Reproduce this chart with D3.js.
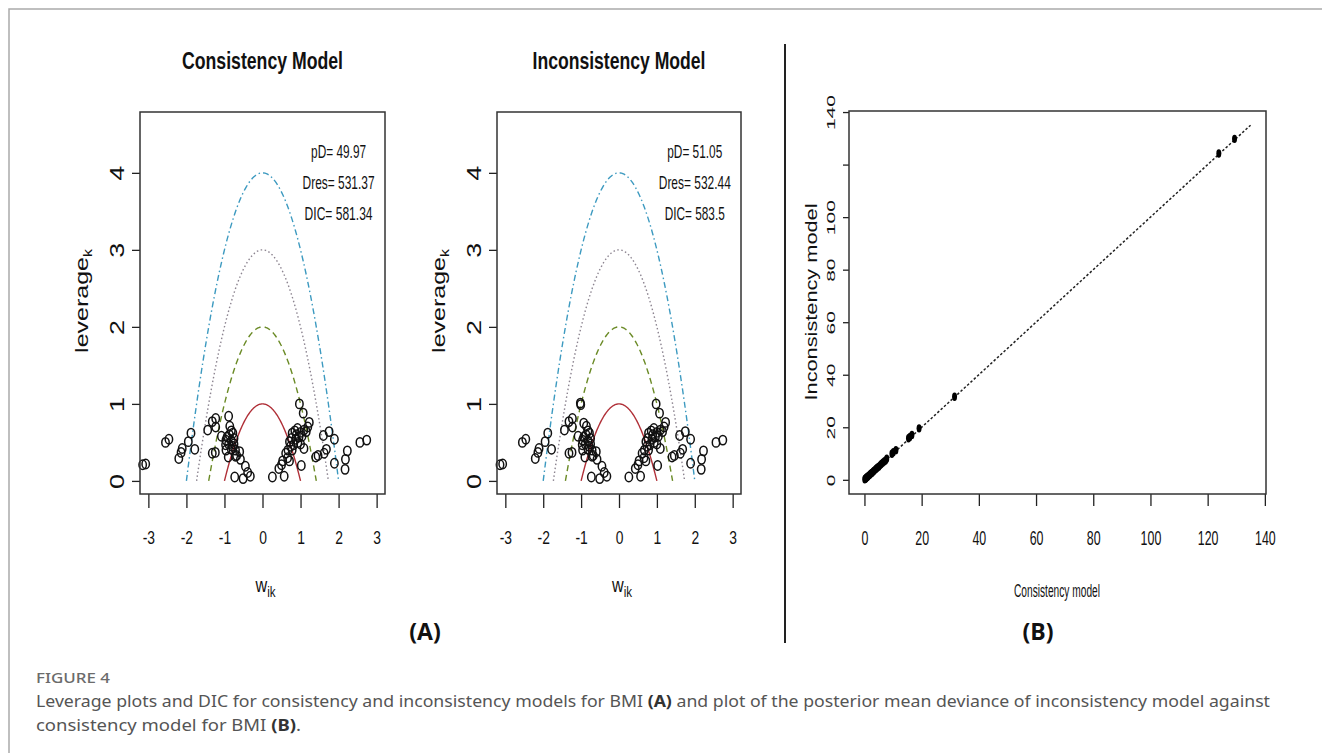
<!DOCTYPE html>
<html>
<head>
<meta charset="utf-8">
<script src="https://cdn.jsdelivr.net/npm/d3@7"></script>
<style>
  body { margin: 0; background: #fff; }
  svg { display: block; }
</style>
</head>
<body>
<svg id="fig" width="1322" height="753"></svg>
<script>
// leverage plot, consistency model: w_ik and leverage_ik
const wConsistency = [-3.15,-3.07,-2.55,-2.46,-2.20,-2.14,-2.11,-1.95,-1.88,-1.78,
  -1.44,-1.32,-1.23,-1.23,-1.32,-1.24,-1.08,-0.89,-0.86,-0.82,
  -0.78,-0.87,-0.75,-0.96,-0.82,-0.97,-0.89,-0.75,-0.96,-0.82,
  -0.71,-0.60,-0.90,-0.71,-0.58,-0.45,-0.39,-0.32,-0.51,-0.73,
  0.26,0.57,0.43,0.50,0.53,0.71,0.61,0.67,0.97,1.07,
  0.78,0.85,0.92,1.00,1.09,1.15,1.19,1.23,0.76,0.87,
  0.96,1.04,0.71,0.82,1.00,1.09,0.78,1.02,1.40,1.46,
  1.62,1.68,1.60,1.75,1.89,1.89,2.17,2.18,2.23,2.56,
  2.74,-0.93,-0.79,-0.68,0.89,0.93,0.74,0.66];
const levConsistency = [0.21,0.22,0.50,0.54,0.29,0.37,0.42,0.51,0.62,0.41,
  0.66,0.77,0.81,0.70,0.36,0.37,0.58,0.84,0.71,0.65,
  0.62,0.60,0.55,0.53,0.52,0.47,0.48,0.48,0.40,0.41,
  0.40,0.38,0.31,0.32,0.28,0.19,0.11,0.06,0.03,0.05,
  0.05,0.06,0.16,0.21,0.26,0.26,0.36,0.40,1.00,0.88,
  0.62,0.65,0.68,0.63,0.66,0.64,0.70,0.76,0.55,0.54,
  0.57,0.58,0.51,0.47,0.48,0.42,0.40,0.20,0.31,0.33,
  0.36,0.41,0.59,0.64,0.54,0.23,0.15,0.28,0.39,0.50,
  0.53,0.57,0.45,0.33,0.60,0.50,0.45,0.30];

// leverage plot, inconsistency model
const wInconsistency = [-3.14,-3.07,-2.55,-2.46,-2.21,-2.14,-2.11,-1.95,-1.88,-1.78,
  -1.44,-1.32,-1.23,-1.23,-1.32,-1.24,-1.08,-1.02,-0.86,-0.82,
  -0.78,-0.87,-0.75,-0.96,-0.82,-0.97,-0.89,-0.75,-0.96,-0.82,
  -0.71,-0.60,-0.90,-0.71,-0.58,-0.45,-0.39,-0.32,-0.51,-0.73,
  0.26,0.57,0.43,0.50,0.53,0.71,0.61,0.67,0.98,1.07,
  0.78,0.85,0.92,1.00,1.09,1.15,1.19,1.23,0.76,0.87,
  0.96,1.04,0.71,0.82,1.00,1.09,0.78,1.02,1.40,1.46,
  1.62,1.68,1.60,1.75,1.89,1.89,2.17,2.18,2.23,2.56,
  2.74,-0.93,-0.79,-0.68,0.89,0.93,0.74,0.66,-1.01,-0.93];
const levInconsistency = [0.21,0.22,0.50,0.54,0.29,0.37,0.42,0.51,0.62,0.41,
  0.66,0.77,0.81,0.70,0.36,0.37,0.58,1.01,0.71,0.65,
  0.62,0.60,0.55,0.53,0.52,0.47,0.48,0.48,0.40,0.41,
  0.40,0.38,0.31,0.32,0.28,0.19,0.11,0.06,0.03,0.05,
  0.05,0.06,0.16,0.21,0.26,0.26,0.36,0.40,1.00,0.88,
  0.62,0.65,0.68,0.63,0.66,0.64,0.70,0.76,0.55,0.54,
  0.57,0.58,0.51,0.47,0.48,0.42,0.40,0.20,0.31,0.33,
  0.36,0.41,0.59,0.64,0.54,0.23,0.15,0.28,0.39,0.50,
  0.53,0.57,0.45,0.33,0.60,0.50,0.45,0.30,0.99,0.75];

const fitConsistency = ["pD= 49.97", "Dres= 531.37", "DIC= 581.34"];
const fitInconsistency = ["pD= 51.05", "Dres= 532.44", "DIC= 583.5"];
const leverageLevels = [1, 2, 3, 4];
const wTicks = [-3, -2, -1, 0, 1, 2, 3];
const levTicks = [0, 1, 2, 3, 4];

// posterior mean deviance, consistency vs inconsistency
const devConsistency = [0.1,0.3,0.5,0.6,0.8,1.0,1.2,1.4,1.6,1.9,2.1,2.4,2.7,3.0,3.3,3.6,4.0,4.3,
  4.7,5.1,5.5,5.9,6.4,6.9,7.4,7.8,9.6,10.1,11.0,15.4,15.9,16.6,19.1,31.5,123.9,129.4];
const devInconsistency = [0.2,0.4,0.5,0.8,0.9,1.1,1.3,1.5,1.7,1.9,2.2,2.5,2.7,3.1,3.4,3.7,4.1,4.4,
  4.8,5.1,5.6,6.0,6.5,7.0,7.4,8.0,9.9,10.5,11.3,15.8,16.3,17.1,19.6,31.6,124.2,129.8];
const devTicks = [0, 20, 40, 60, 80, 100, 120, 140];
const devTickLabelsY = ["0", "20", "40", "60", "80", "100", "", "140"];
const devLine = [0, 135];

const rFont = "'Liberation Sans', Arial, Helvetica, sans-serif";
const svg = d3.select('#fig');

// page frame
svg.append('rect')
  .attr('x', 9).attr('y', 9).attr('width', 1340).attr('height', 780)
  .attr('fill', 'none').attr('stroke', '#aaa').attr('stroke-width', 1.5);

const curveStyles = {
  1: { color: '#b03038', dash: null },
  2: { color: '#6a8a25', dash: '6,4' },
  3: { color: '#8c8490', dash: '1.5,2.5' },
  4: { color: '#3d9ac0', dash: '6,3,1.5,3' }
};

function drawLeverage(box, title, titleW, fit, fitW, ws, levs) {
  const g = svg.append('g');
  const x = d3.scaleLinear().domain([-3.22, 3.22]).range([box.left, box.right]);
  const y = d3.scaleLinear().domain([-0.17, 4.79]).range([box.bottom, box.top]);
  const cx = (box.left + box.right) / 2;

  // x axis
  const xa = g.append('g').attr('transform', `translate(0,${box.bottom})`)
    .call(d3.axisBottom(x).tickValues(wTicks).tickSize(14).tickFormat(d => String(d)));
  xa.select('.domain').remove();
  xa.selectAll('line').attr('stroke', '#222').attr('stroke-width', 1.3);
  xa.selectAll('text')
    .attr('y', null).attr('dy', null)
    .attr('transform', 'translate(0,50) scale(0.77,1)')
    .attr('font-family', rFont).attr('font-size', 18).attr('fill', '#111');

  // y axis
  const ya = g.append('g').attr('transform', `translate(${box.left},0)`)
    .call(d3.axisLeft(y).tickValues(levTicks).tickSize(8).tickFormat(d => String(d)));
  ya.select('.domain').remove();
  ya.selectAll('line').attr('stroke', '#222').attr('stroke-width', 1.3);
  ya.selectAll('text')
    .attr('x', null).attr('dy', '0.36em')
    .attr('text-anchor', 'middle')
    .attr('transform', 'translate(-23,0) scale(0.72,1) rotate(-90)')
    .attr('font-family', rFont).attr('font-size', 27).attr('fill', '#111');

  // leverage + w^2 = c reference curves
  leverageLevels.forEach(c => {
    const r = Math.sqrt(c);
    const pts = d3.range(0, 121).map(i => -r + 2 * r * i / 120);
    const st = curveStyles[c];
    g.append('path')
      .datum(pts)
      .attr('d', d3.line().x(w => x(w)).y(w => y(c - w * w)))
      .attr('fill', 'none')
      .attr('stroke', st.color)
      .attr('stroke-width', 1.4)
      .attr('stroke-dasharray', st.dash);
  });

  // points
  g.append('g').selectAll('ellipse')
    .data(ws.map((w, i) => [w, levs[i]]))
    .join('ellipse')
    .attr('cx', d => x(d[0]))
    .attr('cy', d => y(d[1]))
    .attr('rx', 3.7).attr('ry', 4.7)
    .attr('fill', 'none').attr('stroke', '#111').attr('stroke-width', 1.5);

  // box
  g.append('rect')
    .attr('x', box.left).attr('y', box.top)
    .attr('width', box.right - box.left).attr('height', box.bottom - box.top)
    .attr('fill', 'none').attr('stroke', '#333').attr('stroke-width', 1.5);

  // fit statistics
  g.selectAll('.fit').data(fit).join('text')
    .attr('class', 'fit')
    .attr('x', x(2.0)).attr('y', (d, i) => 158 + i * 31)
    .attr('text-anchor', 'middle')
    .attr('font-family', rFont).attr('font-size', 19).attr('fill', '#111')
    .attr('textLength', (d, i) => fitW[i]).attr('lengthAdjust', 'spacingAndGlyphs')
    .text(d => d);

  // title
  g.append('text')
    .attr('x', cx).attr('y', 69)
    .attr('text-anchor', 'middle')
    .attr('font-family', rFont).attr('font-weight', 'bold').attr('font-size', 23).attr('fill', '#111')
    .attr('textLength', titleW).attr('lengthAdjust', 'spacingAndGlyphs')
    .text(title);

  // y label
  const yl = g.append('text')
    .attr('transform', `translate(${box.left - 58},301) scale(0.77,1) rotate(-90)`)
    .attr('text-anchor', 'middle').attr('dy', '0.3em')
    .attr('font-family', rFont).attr('font-size', 25).attr('fill', '#111');
  yl.append('tspan').text('leverage');
  yl.append('tspan').attr('font-size', 16).attr('dy', '0.35em').text('k');

  // x label
  const xl = g.append('text')
    .attr('transform', `translate(${cx + 3},592) scale(0.77,1)`)
    .attr('text-anchor', 'middle')
    .attr('font-family', rFont).attr('font-size', 21).attr('fill', '#111');
  xl.append('tspan').text('w');
  xl.append('tspan').attr('font-size', 15).attr('dy', 5).text('ik');
}

drawLeverage({ left: 140, right: 385, top: 112, bottom: 494 },
  'Consistency Model', 161, fitConsistency, [55, 72, 68], wConsistency, levConsistency);
drawLeverage({ left: 497, right: 741, top: 112, bottom: 494 },
  'Inconsistency Model', 173, fitInconsistency, [55, 72, 60], wInconsistency, levInconsistency);

// panel B: deviance scatter
(function () {
  const box = { left: 849, right: 1266, top: 111, bottom: 494 };
  const g = svg.append('g');
  const x = d3.scaleLinear().domain([-5.4, 140.4]).range([box.left, box.right]);
  const y = d3.scaleLinear().domain([-5.4, 140.4]).range([box.bottom, box.top]);

  const xa = g.append('g').attr('transform', `translate(0,${box.bottom})`)
    .call(d3.axisBottom(x).tickValues(devTicks).tickSize(12).tickFormat(d => String(d)));
  xa.select('.domain').remove();
  xa.selectAll('line').attr('stroke', '#222').attr('stroke-width', 1.3);
  xa.selectAll('text')
    .attr('y', null).attr('dy', null)
    .attr('transform', 'translate(0,51) scale(0.62,1)')
    .attr('font-family', rFont).attr('font-size', 20).attr('fill', '#111');

  const ya = g.append('g').attr('transform', `translate(${box.left},0)`)
    .call(d3.axisLeft(y).tickValues(devTicks).tickSize(6).tickFormat((d, i) => devTickLabelsY[i]));
  ya.select('.domain').remove();
  ya.selectAll('line').attr('stroke', '#222').attr('stroke-width', 1.3);
  ya.selectAll('text')
    .attr('x', null).attr('dy', '0.36em')
    .attr('text-anchor', 'middle')
    .attr('transform', 'translate(-18,0) scale(0.55,1) rotate(-90)')
    .attr('font-family', rFont).attr('font-size', 21).attr('fill', '#111');

  g.append('path')
    .datum(devLine)
    .attr('d', d3.line().x(v => x(v)).y(v => y(v)))
    .attr('fill', 'none').attr('stroke', '#222').attr('stroke-width', 1.5)
    .attr('stroke-dasharray', '2.5,2');

  g.append('g').selectAll('ellipse')
    .data(devConsistency.map((v, i) => [v, devInconsistency[i]]))
    .join('ellipse')
    .attr('cx', d => x(d[0])).attr('cy', d => y(d[1]))
    .attr('rx', 2.5).attr('ry', 4.2).attr('fill', '#000');

  g.append('rect')
    .attr('x', box.left).attr('y', box.top)
    .attr('width', box.right - box.left).attr('height', box.bottom - box.top)
    .attr('fill', 'none').attr('stroke', '#333').attr('stroke-width', 1.5);

  g.append('text')
    .attr('x', 1057).attr('y', 597).attr('text-anchor', 'middle')
    .attr('font-family', rFont).attr('font-size', 18).attr('fill', '#111')
    .attr('textLength', 86).attr('lengthAdjust', 'spacingAndGlyphs')
    .text('Consistency model');

  g.append('text')
    .attr('transform', 'translate(811,302) scale(0.8,1) rotate(-90)')
    .attr('text-anchor', 'middle').attr('dy', '0.35em')
    .attr('font-family', rFont).attr('font-size', 21).attr('fill', '#111')
    .attr('textLength', 197).attr('lengthAdjust', 'spacingAndGlyphs')
    .text('Inconsistency model');
})();

// separator between (A) and (B)
svg.append('line')
  .attr('x1', 785).attr('x2', 785).attr('y1', 44).attr('y2', 643)
  .attr('stroke', '#222').attr('stroke-width', 2);

// panel letters
[['(A)', 425], ['(B)', 1038]].forEach(([t, xx]) => {
  svg.append('text')
    .attr('x', xx).attr('y', 640).attr('text-anchor', 'middle')
    .attr('font-family', "'Open Sans', 'Noto Sans', sans-serif")
    .attr('font-weight', 700).attr('font-size', 23).attr('fill', '#111')
    .text(t);
});

// caption
const capFont = "'Noto Sans', 'Open Sans', sans-serif";
svg.append('text')
  .attr('x', 36).attr('y', 683)
  .attr('font-family', capFont).attr('font-size', 13.5).attr('font-weight', 500).attr('fill', '#6b6b6b')
  .attr('textLength', 74).attr('lengthAdjust', 'spacingAndGlyphs')
  .text('FIGURE 4');

const cap1 = svg.append('text')
  .attr('x', 36).attr('y', 707)
  .attr('font-family', capFont).attr('font-size', 16.5).attr('fill', '#555')
  .attr('textLength', 1234).attr('lengthAdjust', 'spacingAndGlyphs');
cap1.append('tspan').text('Leverage plots and DIC for consistency and inconsistency models for BMI ');
cap1.append('tspan').attr('font-weight', 700).attr('fill', '#333').text('(A)');
cap1.append('tspan').text(' and plot of the posterior mean deviance of inconsistency model against');

const cap2 = svg.append('text')
  .attr('x', 36).attr('y', 731)
  .attr('font-family', capFont).attr('font-size', 16.5).attr('fill', '#555')
  .attr('textLength', 265).attr('lengthAdjust', 'spacingAndGlyphs');
cap2.append('tspan').text('consistency model for BMI ');
cap2.append('tspan').attr('font-weight', 700).attr('fill', '#333').text('(B)');
cap2.append('tspan').text('.');
</script>
</body>
</html>
